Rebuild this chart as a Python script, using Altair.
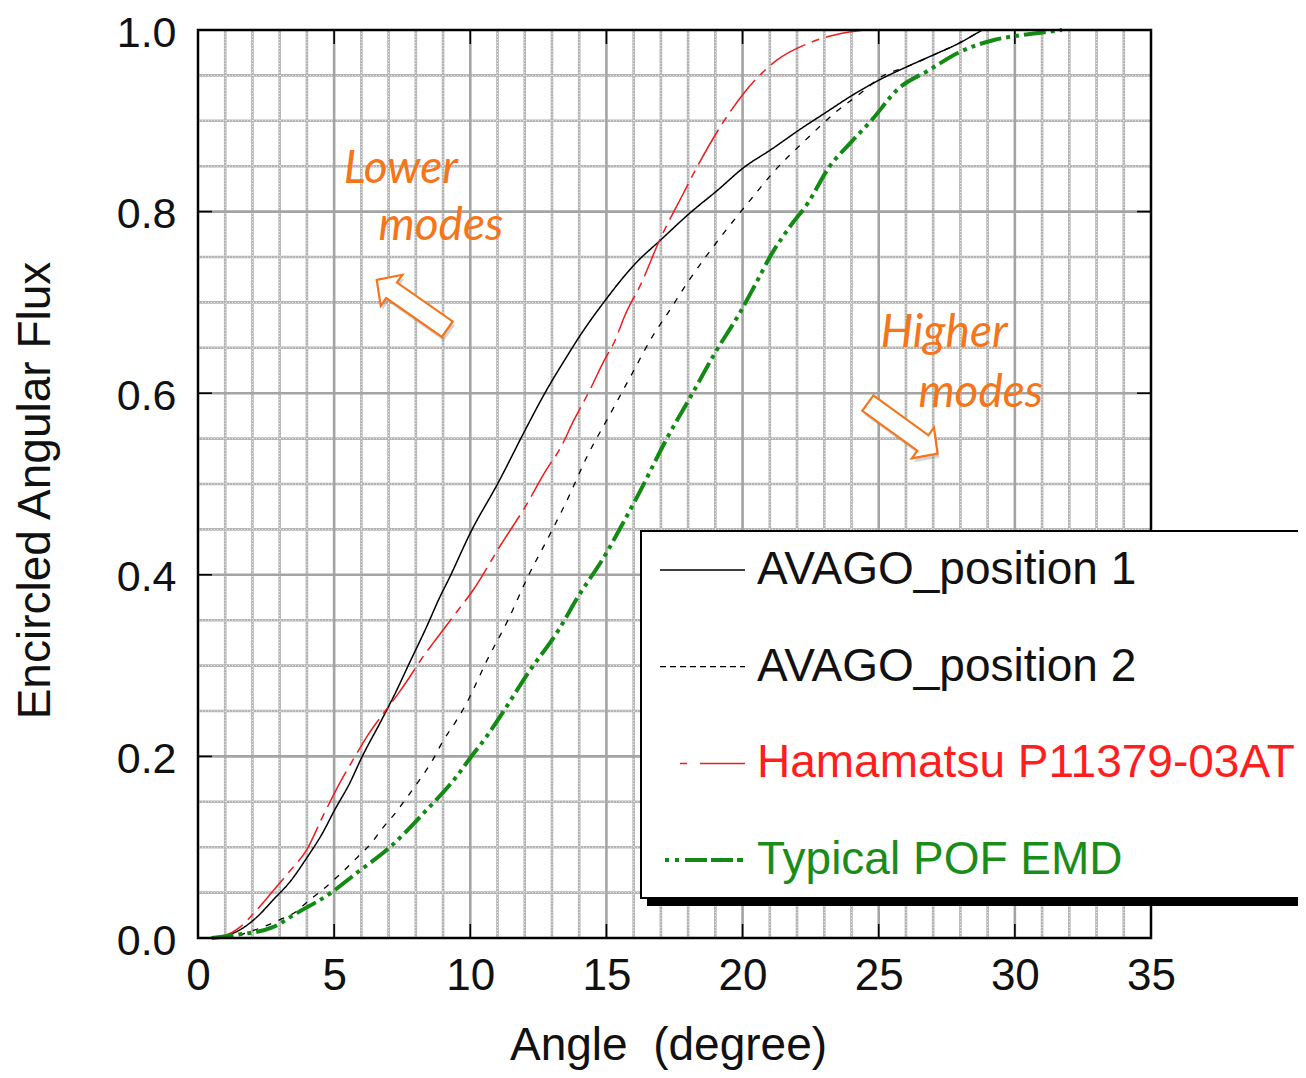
import altair as alt
import pandas as pd

# ---------------- data ----------------
series_names = ["AVAGO_position 1", "AVAGO_position 2",
                "Hamamatsu P11379-03AT", "Typical POF EMD"]

avago1_x = [0, 0.8, 1.0, 1.54, 2.16, 2.76, 3.38, 3.99, 4.6, 5.0, 5.58, 6.0, 6.74,
            7.3, 7.72, 8.4, 8.89, 9.19, 10.05, 11.0, 12.06, 12.7, 13.6, 14.0, 14.9,
            16.07, 17.0, 18.05, 19.1, 20.02, 21.08, 22.13, 23.05, 23.97, 25.02,
            26.07, 27.12, 27.92, 28.57, 28.8]
avago1_y = [0, 0, 0.002, 0.009, 0.023, 0.042, 0.062, 0.088, 0.117, 0.14, 0.171,
            0.198, 0.24, 0.273, 0.30, 0.343, 0.376, 0.394, 0.449, 0.500, 0.562,
            0.598, 0.643, 0.662, 0.70, 0.743, 0.769, 0.798, 0.824, 0.848, 0.869,
            0.891, 0.909, 0.927, 0.945, 0.96, 0.974, 0.985, 0.996, 1.0]

avago2_x = [0.5, 1.0, 2.0, 3.0, 3.6, 4.02, 4.57, 5.28, 5.89, 6.38, 6.78, 7.23,
            7.75, 8.18, 8.6, 9.0, 9.46, 9.87, 10.6, 11.4, 12.1, 12.9, 13.6, 14.3,
            15.1, 15.95, 16.7, 17.25, 18.05, 19.3, 20.29, 21.21, 22.32, 23.44,
            24.49, 25.02, 26.07, 27.12, 27.92, 28.57, 28.8]
avago2_y = [0, 0.0, 0.008, 0.02, 0.029, 0.040, 0.053, 0.072, 0.09, 0.105, 0.121,
            0.137, 0.158, 0.176, 0.195, 0.217, 0.238, 0.259, 0.305, 0.351, 0.397,
            0.443, 0.485, 0.531, 0.575, 0.622, 0.663, 0.688, 0.725, 0.776, 0.813,
            0.846, 0.879, 0.910, 0.934, 0.947, 0.96, 0.974, 0.985, 0.996, 1.0]

hama_x = [0.3, 1.0, 1.54, 2.16, 2.76, 3.38, 3.99, 4.6, 5.34, 5.77, 6.25, 6.8, 7.3,
          7.72, 8.2, 8.64, 9.5, 10.1, 11.1, 12.06, 12.8, 13.3, 13.8, 14.4, 14.9,
          15.3, 15.67, 16.31, 16.93, 17.79, 18.38, 19.3, 20.09, 21.27, 22.39,
          23.3, 23.97, 24.5]
hama_y = [0, 0.003, 0.012, 0.031, 0.052, 0.074, 0.097, 0.135, 0.178, 0.2, 0.224,
          0.247, 0.267, 0.285, 0.307, 0.325, 0.359, 0.383, 0.432, 0.477, 0.516,
          0.539, 0.57, 0.604, 0.635, 0.657, 0.685, 0.723, 0.767, 0.818, 0.852,
          0.899, 0.932, 0.967, 0.985, 0.994, 0.998, 1.0]

pof_x = [0.5, 1.3, 2.75, 3.6, 4.85, 5.8, 7.05, 8.27, 9.5, 9.99, 10.6, 11.1, 12.06,
         13.3, 13.9, 15.0, 15.5, 16.2, 17.2, 18.2, 19.0, 19.89, 20.42, 21.08,
         21.73, 22.39, 23.18, 23.97, 24.75, 25.67, 26.86, 27.92, 29.23, 30.15,
         31.2, 31.73]
pof_y = [0, 0.003, 0.012, 0.027, 0.049, 0.071, 0.1, 0.137, 0.178, 0.198, 0.222,
         0.244, 0.289, 0.342, 0.373, 0.424, 0.451, 0.49, 0.549, 0.602, 0.645,
         0.688, 0.717, 0.754, 0.783, 0.809, 0.849, 0.876, 0.901, 0.934, 0.956,
         0.975, 0.989, 0.994, 0.998, 1.0]

x_ticks = [0, 5, 10, 15, 20, 25, 30, 35]
y_ticks = [0.0, 0.2, 0.4, 0.6, 0.8, 1.0]
x_minor = [v for v in range(1, 35) if v % 5 != 0]
x_major = [5, 10, 15, 20, 25, 30]
y_minor = [round(i * 0.05, 2) for i in range(1, 20) if i % 4 != 0]
y_major = [0.2, 0.4, 0.6, 0.8]

notes_text = ["Lower", "modes", "Higher", "modes"]
notes_x = [7.45, 8.92, 27.4, 28.75]
notes_y = [0.832, 0.769, 0.651, 0.585]

arrows_x = [7.86, 25.88]
arrows_y = [0.6976, 0.5613]
arrows_angle = [214.9, 35.9]

# ---------------- tables ----------------
all_x = [avago1_x, avago2_x, hama_x, pof_x]
all_y = [avago1_y, avago2_y, hama_y, pof_y]
rows = []
for name, xs_, ys_ in zip(series_names, all_x, all_y):
    for a, f in zip(xs_, ys_):
        rows.append({"series": name, "angle": a, "flux": f})
df = pd.DataFrame(rows)

notes_df = pd.DataFrame({"t": notes_text, "x": notes_x, "y": notes_y})
arrows_df = pd.DataFrame({"x": arrows_x, "y": arrows_y, "a": arrows_angle})

W, H = 953, 908
FONT = "Liberation Sans"
ORANGE = "#F5751B"

xs = alt.Scale(domain=[0, 35], nice=False, zero=False)
ys = alt.Scale(domain=[0, 1], nice=False, zero=False)
one = alt.Data(values=[{"k": 1}])

x_axis = alt.Axis(values=x_ticks, labelFontSize=44, labelFont=FONT, labelColor="#111111",
                  labelPadding=16, ticks=False, tickSize=0, domain=False, grid=False,
                  labelFlush=False, labelOverlap=False,
                  title="Angle\u00a0 (degree)", titleFont=FONT, titleFontSize=46,
                  titleFontWeight="normal", titleColor="#111111",
                  titleX=470, titleY=107, titleBaseline="middle", titleAlign="center")
y_axis = alt.Axis(values=y_ticks, format=".1f", labelFontSize=43, labelFont=FONT,
                  labelColor="#111111", labelPadding=22, labelOffset=3, ticks=False,
                  tickSize=0, domain=False, grid=False, labelFlush=False,
                  labelOverlap=False,
                  title="Encircled Angular Flux", titleFont=FONT, titleFontSize=46,
                  titleFontWeight="normal", titleColor="#111111",
                  titleX=-163, titleY=460, titleBaseline="middle", titleAlign="center",
                  titleAngle=270)


def X(field):
    return alt.X(field, scale=xs, axis=x_axis)


def Y(field):
    return alt.Y(field, scale=ys, axis=y_axis)


line_colors = ["#000000", "#000000", "#EE1C1C", "#138A13"]
text_colors = ["#111111", "#111111", "#FF1E1E", "#1A8C1A"]
dashes = [[1, 0], [6, 8], [40, 7, 8, 7], [22, 5, 4, 5, 4, 5]]
legend_dashes = [[1, 0], [6, 4], [7, 13, 45], [4, 6, 4, 6, 22, 4, 22]]
widths = [1.5, 1.3, 1.5, 4.0]

layers = []

# grid
gx_minor = pd.DataFrame({"v": x_minor})
gy_minor = pd.DataFrame({"v": y_minor})
gx_major = pd.DataFrame({"v": x_major})
gy_major = pd.DataFrame({"v": y_major})

layers.append(alt.Chart(gx_minor).mark_rule(color="#B4B4B4", strokeWidth=2.6)
              .encode(x=X("v:Q")))
layers.append(alt.Chart(gy_minor).mark_rule(color="#B4B4B4", strokeWidth=2.6)
              .encode(y=Y("v:Q")))
layers.append(alt.Chart(gx_minor).mark_rule(color="#FFFFFF", strokeWidth=0.8, strokeDash=[1, 2])
              .encode(x=X("v:Q")))
layers.append(alt.Chart(gy_minor).mark_rule(color="#FFFFFF", strokeWidth=0.8, strokeDash=[1, 2])
              .encode(y=Y("v:Q")))
layers.append(alt.Chart(gx_major).mark_rule(color="#A4A4A4", strokeWidth=2.6)
              .encode(x=X("v:Q")))
layers.append(alt.Chart(gy_major).mark_rule(color="#A4A4A4", strokeWidth=2.6)
              .encode(y=Y("v:Q")))

# inward ticks
TL = 14
layers.append(alt.Chart(gx_major).mark_rule(color="black", strokeWidth=1.6)
              .encode(x=X("v:Q"), y=alt.value(H), y2=alt.value(H - TL)))
layers.append(alt.Chart(gx_major).mark_rule(color="black", strokeWidth=1.6)
              .encode(x=X("v:Q"), y=alt.value(0), y2=alt.value(TL)))
layers.append(alt.Chart(gy_major).mark_rule(color="black", strokeWidth=1.6)
              .encode(y=Y("v:Q"), x=alt.value(0), x2=alt.value(TL)))
layers.append(alt.Chart(gy_major).mark_rule(color="black", strokeWidth=1.6)
              .encode(y=Y("v:Q"), x=alt.value(W), x2=alt.value(W - TL)))

# data lines
for name, c, d, w in zip(series_names, line_colors, dashes, widths):
    layers.append(alt.Chart(df).transform_filter(alt.datum.series == name)
                  .mark_line(color=c, strokeDash=d, strokeWidth=w, interpolate="monotone")
                  .encode(x=X("angle:Q"), y=Y("flux:Q"), order="angle:Q"))

# annotations
layers.append(alt.Chart(notes_df).mark_text(font="Lato", fontStyle="italic", fontSize=46,
                                            color=ORANGE, align="center",
                                            baseline="alphabetic")
              .encode(x=X("x:Q"), y=Y("y:Q"), text="t:N"))

arrow_path = "M -1 -0.22 L 0.58 -0.22 L 0.58 -0.44 L 1 0 L 0.58 0.44 L 0.58 0.22 L -1 0.22 Z"
layers.append(alt.Chart(arrows_df).mark_point(shape=arrow_path, size=7400, filled=True,
                                              fill="#808080", fillOpacity=0.35,
                                              strokeOpacity=0)
              .encode(x=X("x:Q"), y=Y("y:Q"),
                      angle=alt.Angle("a:Q", scale=None),
                      xOffset=alt.value(2), yOffset=alt.value(4)))
layers.append(alt.Chart(arrows_df).mark_point(shape=arrow_path, size=7400, filled=True,
                                              fill="white", fillOpacity=1,
                                              stroke=ORANGE, strokeWidth=2.2, opacity=1)
              .encode(x=X("x:Q"), y=Y("y:Q"),
                      angle=alt.Angle("a:Q", scale=None)))

# plot frame
layers.append(alt.Chart(one).mark_rect(fillOpacity=0, stroke="black", strokeWidth=2.5)
              .encode(x=alt.value(0), x2=alt.value(W), y=alt.value(0), y2=alt.value(H)))

# legend box with shadow
layers.append(alt.Chart(one).mark_rect(color="black")
              .encode(x=alt.value(449), x2=alt.value(1200), y=alt.value(508), y2=alt.value(876)))
layers.append(alt.Chart(one).mark_rect(fill="white", stroke="black", strokeWidth=2)
              .encode(x=alt.value(443), x2=alt.value(1190), y=alt.value(501), y2=alt.value(868)))

leg_y0, leg_step = 540, 96.7
sym_x1 = [462, 462, 482, 467]
for i, (name, c, tc, d, w) in enumerate(zip(series_names, line_colors, text_colors,
                                           legend_dashes, widths)):
    yy = leg_y0 + i * leg_step
    layers.append(alt.Chart(one).mark_rule(color=c, strokeDash=d, strokeWidth=w)
                  .encode(x=alt.value(sym_x1[i]), x2=alt.value(547), y=alt.value(yy)))
    layers.append(alt.Chart(one).mark_text(align="left", baseline="middle", font=FONT,
                                           fontSize=46, color=tc)
                  .encode(x=alt.value(559), y=alt.value(yy), text=alt.value(name)))

chart = alt.layer(*layers).properties(
    width=W, height=H,
    autosize=alt.AutoSizeParams(type="none"),
    padding={"left": 190, "top": 22, "right": 147, "bottom": 132},
    background="white",
).configure_view(strokeWidth=0)

chart.save("out.html", embed_options={"renderer": "svg", "actions": False})
